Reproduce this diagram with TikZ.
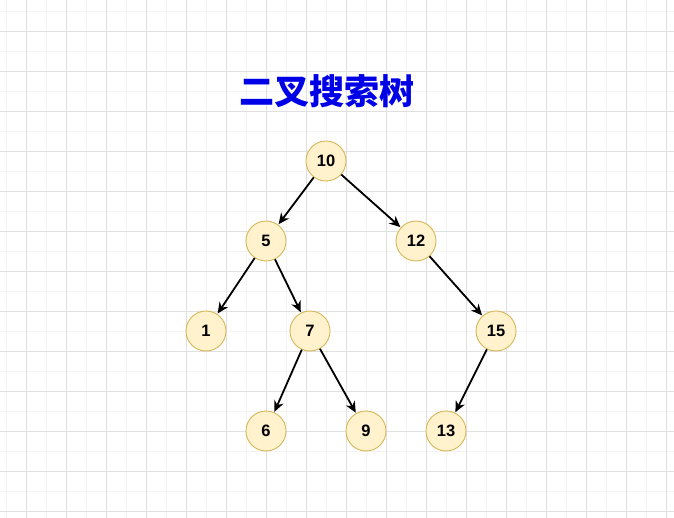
\documentclass[tikz,border=0pt]{standalone}
\usepackage{fontspec}
\setmainfont{Liberation Sans}
\newfontfamily\cjk{Noto Sans CJK SC}
\usetikzlibrary{arrows.meta}
\definecolor{nodefill}{HTML}{FFF2CC}
\definecolor{nodeline}{HTML}{D6B656}
\definecolor{titleblue}{HTML}{0000E6}
\definecolor{gridmajor}{HTML}{E0E0E0}
\definecolor{gridminor}{HTML}{F3F3F3}
\tikzset{
  treenode/.style={circle, draw=nodeline, fill=nodefill, line width=0.9pt,
    minimum size=40pt, inner sep=0pt, font=\fontsize{16.5}{18}\selectfont\bfseries},
  treeedge/.style={draw=black, line width=1.8pt,
    -{Stealth[length=11pt,width=10pt,inset=3.5pt]}, shorten >=0.5pt},
}
\begin{document}
\begin{tikzpicture}[x=1pt,y=-1pt]
\useasboundingbox (0,0) rectangle (674,518);
\fill[white] (0,0) rectangle (674,518);
% minor grid
\foreach \gx in {6,46,...,666} \draw[gridminor, line width=0.6pt] (\gx,0) -- (\gx,518);
\foreach \gy in {11,51,...,511} \draw[gridminor, line width=0.6pt] (0,\gy) -- (674,\gy);
% major grid
\foreach \gx in {26,66,...,666} \draw[gridmajor, line width=0.7pt] (\gx,0) -- (\gx,518);
\foreach \gy in {31,71,...,511} \draw[gridmajor, line width=0.7pt] (0,\gy) -- (674,\gy);
% title
\node[text=titleblue, font=\cjk\fontsize{35}{40}\selectfont\bfseries] (title) at (326.5,91) {二叉搜索树};
% nodes
\node[treenode] (n10) at (326,161) {10};
\node[treenode] (n5)  at (266,241) {5};
\node[treenode] (n12) at (416,241) {12};
\node[treenode] (n1)  at (206,331) {1};
\node[treenode] (n7)  at (310,331) {7};
\node[treenode] (n15) at (496,331) {15};
\node[treenode] (n6)  at (266,431) {6};
\node[treenode] (n9)  at (366,431) {9};
\node[treenode] (n13) at (446,431) {13};
% edges
\draw[treeedge] (n10) -- (n5);
\draw[treeedge] (n10) -- (n12);
\draw[treeedge] (n5) -- (n1);
\draw[treeedge] (n5) -- (n7);
\draw[treeedge] (n12) -- (n15);
\draw[treeedge] (n7) -- (n6);
\draw[treeedge] (n7) -- (n9);
\draw[treeedge] (n15) -- (n13);
\end{tikzpicture}
\end{document}
